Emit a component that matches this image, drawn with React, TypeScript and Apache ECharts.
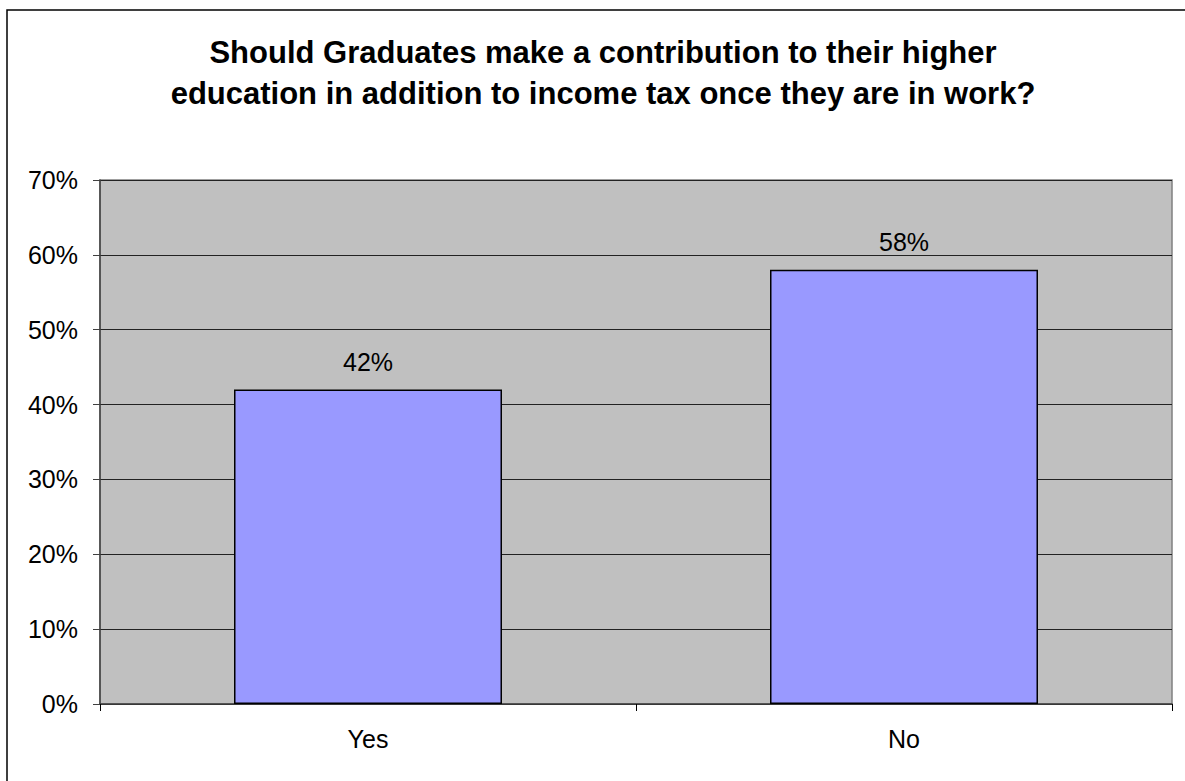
import React, { useEffect, useRef } from "react";
import * as echarts from "echarts";

const categories = ["Yes", "No"];
const values = [0.42, 0.58];
const titleLines = [
  "Should Graduates make a contribution to their higher",
  "education in addition to income tax once they are in work?",
];

export default function App() {
  const ref = useRef<HTMLDivElement>(null);
  useEffect(() => {
    const chart = echarts.init(ref.current!, null, { renderer: "svg" });
    const font = "'Liberation Sans', Arial, sans-serif";
    chart.setOption({
      animation: false,
      backgroundColor: "#fff",
      title: {
        text: titleLines.join("\n"),
        left: 598,
        textAlign: "center",
        top: 27,
        textStyle: { fontFamily: font, fontWeight: "bold", fontSize: 31, lineHeight: 41, color: "#000" },
      },
      graphic: [
        {
          type: "rect",
          shape: { x: 7, y: 10, width: 1300, height: 900 },
          style: { fill: "none", stroke: "#000", lineWidth: 1.5 },
          silent: true,
        },
      ],
      grid: {
        left: 100,
        top: 180,
        width: 1072,
        height: 524,
        show: true,
        backgroundColor: "#C0C0C0",
        borderColor: "#808080",
        borderWidth: 1.5,
      },
      xAxis: {
        type: "category",
        data: categories,
        axisLine: { show: true, lineStyle: { color: "#404040", width: 1.5 } },
        axisTick: { show: true, length: 7, alignWithLabel: false, lineStyle: { color: "#000" } },
        axisLabel: { fontFamily: font, fontSize: 25, color: "#000", margin: 22 },
      },
      yAxis: {
        type: "value",
        min: 0,
        max: 0.7,
        interval: 0.1,
        axisLine: { show: true, lineStyle: { color: "#404040", width: 1.5 } },
        axisTick: { show: true, length: 7, lineStyle: { color: "#404040" } },
        splitLine: { show: true, lineStyle: { color: "#222", width: 1 } },
        axisLabel: {
          fontFamily: font,
          fontSize: 25,
          color: "#000",
          margin: 22,
          formatter: (v: number) => Math.round(v * 100) + "%",
        },
      },
      series: [
        {
          type: "bar",
          data: values,
          barWidth: "50%",
          itemStyle: { color: "#9999FF", borderColor: "#000", borderWidth: 1.5 },
          label: {
            show: true,
            position: "top",
            distance: 15,
            fontFamily: font,
            fontSize: 25,
            color: "#000",
            formatter: (p: any) => Math.round(p.value * 100) + "%",
          },
        },
      ],
    });
    return () => chart.dispose();
  }, []);
  return <div ref={ref} style={{ position: "fixed", left: 0, top: 0, width: 1185, height: 781 }} />;
}
